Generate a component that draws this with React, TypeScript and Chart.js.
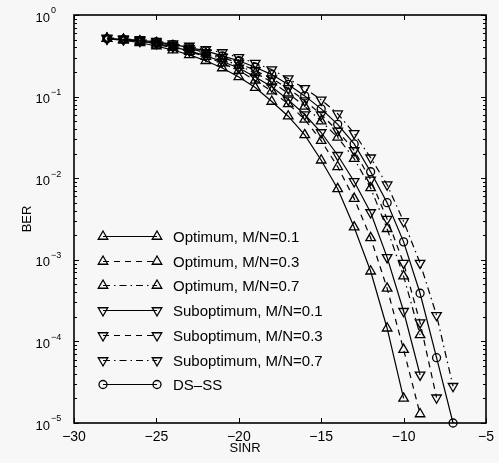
import React, { useEffect, useRef } from "react";
import { Chart, registerables } from "chart.js";

Chart.register(...registerables);

// SINR values (dB) at which the simulated points lie
const sinr = [-28, -27, -26, -25, -24, -23, -22, -21, -20, -19, -18, -17, -16, -15, -14, -13, -12, -11, -10, -9, -8, -7];

// BER (each series starts at -28 dB)
const berOpt01 = [0.513, 0.49, 0.457, 0.417, 0.372, 0.324, 0.275, 0.224, 0.174, 0.129, 0.0871, 0.0575, 0.0339, 0.0166, 0.00741, 0.00251, 0.000724, 0.000145, 2.0e-5];
const berOpt03 = [0.513, 0.501, 0.468, 0.437, 0.398, 0.355, 0.309, 0.257, 0.209, 0.158, 0.117, 0.0813, 0.0525, 0.0288, 0.0138, 0.00562, 0.00186, 0.000447, 7.94e-5, 1.29e-5];
const berOpt07 = [0.513, 0.501, 0.479, 0.457, 0.417, 0.38, 0.339, 0.288, 0.24, 0.195, 0.151, 0.11, 0.0759, 0.0501, 0.0316, 0.0174, 0.00759, 0.0024, 0.000631, 0.00012];
const berSub01 = [0.513, 0.501, 0.479, 0.447, 0.407, 0.363, 0.316, 0.269, 0.224, 0.174, 0.132, 0.0912, 0.0603, 0.0363, 0.0191, 0.00912, 0.0038, 0.00107, 0.000234, 3.89e-5];
const berSub03 = [0.513, 0.501, 0.49, 0.457, 0.427, 0.389, 0.347, 0.302, 0.257, 0.209, 0.166, 0.126, 0.0891, 0.0603, 0.038, 0.0219, 0.00955, 0.00316, 0.000912, 0.00017, 2.04e-5];
const berSub07 = [0.525, 0.513, 0.501, 0.479, 0.447, 0.417, 0.38, 0.347, 0.302, 0.257, 0.214, 0.166, 0.126, 0.0912, 0.0617, 0.0355, 0.0178, 0.00832, 0.00295, 0.000912, 0.000209, 2.82e-5];
const berDsss = [0.513, 0.501, 0.49, 0.468, 0.437, 0.398, 0.363, 0.316, 0.275, 0.229, 0.186, 0.141, 0.102, 0.0708, 0.0457, 0.0263, 0.012, 0.00501, 0.00166, 0.000389, 6.31e-5, 1.0e-5];

const legendLabels = [
  "Optimum, M/N=0.1",
  "Optimum, M/N=0.3",
  "Optimum, M/N=0.7",
  "Suboptimum, M/N=0.1",
  "Suboptimum, M/N=0.3",
  "Suboptimum, M/N=0.7",
  "DS\u2013SS",
];

const xTicks = [-30, -25, -20, -15, -10, -5];
const yExps = [0, -1, -2, -3, -4, -5];
const xTitle = "SINR";
const yTitle = "BER";

const FONT = '"Liberation Sans", Arial, Helvetica, sans-serif';
const BG = "#f7f7f7";
const SOLID: number[] = [];
const DASHED = [6, 5];
const DASHDOT = [7, 4, 1.5, 4];

type Marker = "up" | "down" | "circle";
const seriesDefs: { label: string; vals: number[]; dash: number[]; marker: Marker }[] = [
  { label: legendLabels[0], vals: berOpt01, dash: SOLID, marker: "up" },
  { label: legendLabels[1], vals: berOpt03, dash: DASHED, marker: "up" },
  { label: legendLabels[2], vals: berOpt07, dash: DASHDOT, marker: "up" },
  { label: legendLabels[3], vals: berSub01, dash: SOLID, marker: "down" },
  { label: legendLabels[4], vals: berSub03, dash: DASHED, marker: "down" },
  { label: legendLabels[5], vals: berSub07, dash: DASHDOT, marker: "down" },
  { label: legendLabels[6], vals: berDsss, dash: SOLID, marker: "circle" },
];

const TRI_R = 5.5;
const CIR_R = 4;

function drawMarker(ctx: CanvasRenderingContext2D, m: Marker, x: number, y: number) {
  ctx.beginPath();
  if (m === "circle") {
    ctx.arc(x, y, CIR_R, 0, Math.PI * 2);
  } else {
    let rad = m === "up" ? 0 : Math.PI;
    const step = (2 * Math.PI) / 3;
    ctx.moveTo(x + Math.sin(rad) * TRI_R, y - Math.cos(rad) * TRI_R);
    rad += step;
    ctx.lineTo(x + Math.sin(rad) * TRI_R, y - Math.cos(rad) * TRI_R);
    rad += step;
    ctx.lineTo(x + Math.sin(rad) * TRI_R, y - Math.cos(rad) * TRI_R);
    ctx.closePath();
  }
  ctx.stroke();
}

const bgPlugin = {
  id: "bg",
  beforeDraw(chart: any) {
    const ctx = chart.ctx as CanvasRenderingContext2D;
    ctx.save();
    ctx.fillStyle = BG;
    ctx.fillRect(0, 0, chart.width, chart.height);
    ctx.restore();
  },
};

const decorPlugin = {
  id: "decor",
  afterDatasetsDraw(chart: any) {
    const ctx = chart.ctx as CanvasRenderingContext2D;
    const a = chart.chartArea;
    const xs = chart.scales.x;
    const ys = chart.scales.y;
    ctx.save();
    ctx.strokeStyle = "#000";
    ctx.fillStyle = "#000";
    ctx.setLineDash([]);

    const line = (x1: number, y1: number, x2: number, y2: number) => {
      ctx.beginPath();
      ctx.moveTo(x1, y1);
      ctx.lineTo(x2, y2);
      ctx.stroke();
    };

    // ticks
    ctx.lineWidth = 1;
    for (const v of xTicks) {
      const px = Math.round(xs.getPixelForValue(v)) + 0.5;
      line(px, a.bottom, px, a.bottom - 5);
      line(px, a.top, px, a.top + 5);
    }
    for (const e of yExps) {
      const base = Math.pow(10, e);
      const py = Math.round(ys.getPixelForValue(base)) + 0.5;
      line(a.left, py, a.left + 5, py);
      line(a.right, py, a.right - 5, py);
      if (e < 0) {
        for (let k = 2; k <= 9; k++) {
          const pm = Math.round(ys.getPixelForValue(k * base)) + 0.5;
          line(a.left, pm, a.left + 3, pm);
          line(a.right, pm, a.right - 3, pm);
        }
      }
    }

    // frame
    ctx.lineWidth = 1.6;
    ctx.strokeRect(a.left, a.top, a.right - a.left, a.bottom - a.top);

    // x tick labels
    ctx.font = `14px ${FONT}`;
    ctx.textAlign = "center";
    ctx.textBaseline = "middle";
    for (const v of xTicks) {
      const px = xs.getPixelForValue(v);
      const txt = v < 0 ? "\u2212" + Math.abs(v) : String(v);
      ctx.fillText(txt, px, a.bottom + 14);
    }

    // y tick labels 10^e
    for (const e of yExps) {
      const py = ys.getPixelForValue(Math.pow(10, e));
      ctx.font = `13px ${FONT}`;
      ctx.textAlign = "right";
      ctx.textBaseline = "middle";
      ctx.fillText("10", a.left - 24, py + 3);
      ctx.font = `9px ${FONT}`;
      ctx.textAlign = "left";
      const ex = e === 0 ? "0" : "\u2212" + Math.abs(e);
      ctx.fillText(ex, a.left - 23, py - 4);
    }

    // axis titles
    ctx.font = `13px ${FONT}`;
    ctx.textAlign = "center";
    ctx.textBaseline = "middle";
    ctx.fillText(xTitle, 245, a.bottom + 25);
    ctx.save();
    ctx.translate(27, (a.top + a.bottom) / 2);
    ctx.rotate(-Math.PI / 2);
    ctx.fillText(yTitle, 0, 0);
    ctx.restore();

    // legend
    const rowY0 = 236;
    const rowStep = 24.7;
    const lx1 = 103;
    const lx2 = 157;
    const tx = 173;
    ctx.font = `15px ${FONT}`;
    ctx.textAlign = "left";
    ctx.textBaseline = "middle";
    seriesDefs.forEach((s, i) => {
      const y = Math.round(rowY0 + i * rowStep) + 0.5;
      ctx.lineWidth = 1.2;
      ctx.setLineDash(s.dash);
      line(lx1, y, lx2, y);
      ctx.setLineDash([]);
      ctx.lineWidth = 1.3;
      drawMarker(ctx, s.marker, lx1, y);
      drawMarker(ctx, s.marker, lx2, y);
      ctx.fillText(s.label, tx, y + 1);
    });

    ctx.restore();
  },
};

export default function App() {
  const ref = useRef<HTMLCanvasElement | null>(null);

  useEffect(() => {
    if (!ref.current) return;
    const datasets = seriesDefs.map((s) => ({
      label: s.label,
      data: s.vals.map((v, i) => ({ x: sinr[i], y: v })),
      borderColor: "#000",
      borderWidth: 1.2,
      borderDash: s.dash,
      pointStyle: s.marker === "circle" ? "circle" : "triangle",
      pointRotation: s.marker === "down" ? 180 : 0,
      pointRadius: s.marker === "circle" ? CIR_R : TRI_R,
      pointBorderWidth: 1.3,
      pointBorderColor: "#000",
      pointBackgroundColor: "rgba(0,0,0,0)",
      tension: 0,
      fill: false,
      clip: false as any,
    }));
    const chart = new Chart(ref.current, {
      type: "line",
      data: { datasets },
      options: {
        responsive: false,
        animation: false,
        layout: { padding: { left: 74, right: 13, top: 15, bottom: 40 } },
        scales: {
          x: { type: "linear", min: -30, max: -5, display: false },
          y: { type: "logarithmic", min: 1e-5, max: 1, display: false },
        },
        plugins: {
          legend: { display: false },
          tooltip: { enabled: false },
        },
      },
      plugins: [bgPlugin, decorPlugin],
    });
    return () => chart.destroy();
  }, []);

  return (
    <div style={{ position: "fixed", left: 0, top: 0, width: 499, height: 463, background: BG }}>
      <canvas ref={ref} width={499} height={463} style={{ display: "block", width: 499, height: 463 }} />
    </div>
  );
}
